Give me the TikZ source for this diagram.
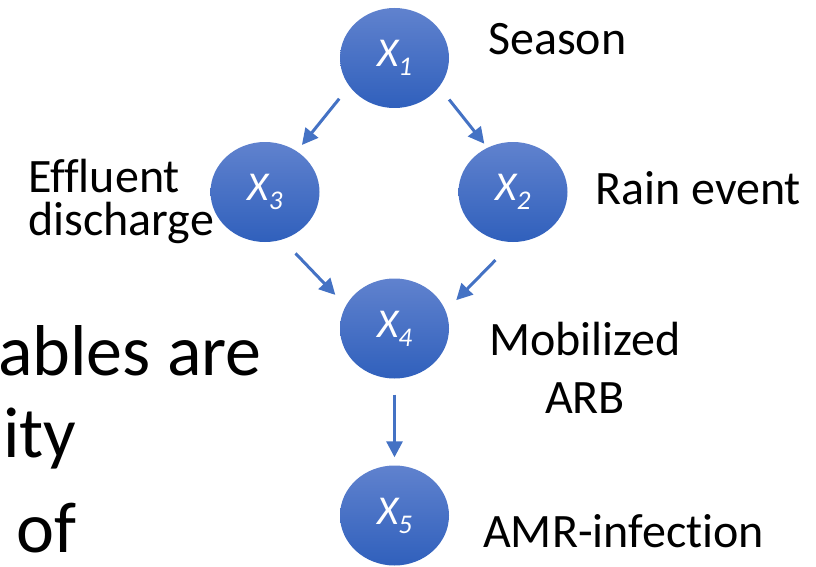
\documentclass[tikz,border=0pt]{standalone}
\usepackage{fontspec}
\setmainfont{Carlito}[Ligatures=NoCommon]
\usetikzlibrary{calc,shapes.geometric,arrows.meta}

\definecolor{arrblue}{RGB}{68,114,196}
\definecolor{rvtop}{RGB}{96,130,206}
\definecolor{rvbot}{RGB}{48,96,188}

\newcommand{\rvsub}[1]{\raisebox{-9pt}{\fontsize{27}{27}\selectfont #1}}

\begin{document}
\begin{tikzpicture}[x=1pt, y=-1pt,
    rv/.style={ellipse, minimum width=109pt, minimum height=100pt, inner sep=0pt,
        top color=rvtop, bottom color=rvbot, text=white,
        font=\fontsize{41}{41}\selectfont\itshape},
    lbl/.style={inner sep=0pt, font=\fontsize{48}{48}\selectfont},
    big/.style={inner sep=0pt, anchor=base west, font=\fontsize{72}{72}\selectfont},
    arr/.style={draw=arrblue, line width=3pt, -{Triangle[length=16pt, width=16pt]},
        shorten <=16pt, shorten >=8pt}]
    \useasboundingbox (0, 0) rectangle (816, 567);

    \node [rv] (X1) at (394.5, 58) {X\rvsub{1}};
        \node [rv] (X3) at ($(X1) + (-129.5, 134)$) {X\rvsub{3}};
        \node [rv] (X2) at ($(X1) + (118.5, 134)$) {X\rvsub{2}};
    \node [rv] (X4) at ($(X1) + (0, 270.5)$) {X\rvsub{4}};
    \node [rv] (X5) at ($(X4) + (0, 187)$) {X\rvsub{5}};

    \node [lbl, anchor=base west] (season) at ($(X1) + (93.5, -3)$) {Season};
    \node [lbl, anchor=base west] (rain) at ($(X2) + (82, 12)$) {Rain event};
    \node [lbl, anchor=base west, align=left, font=\fontsize{48}{43}\selectfont]
        (effluent) at ($(X3) + (-237, 43)$) {Effluent\\discharge};
    \node [lbl, anchor=base, align=center, font=\fontsize{48}{58}\selectfont]
        (arb) at ($(X4) + (190.5, 84.5)$) {Mobilized\\ARB};
    \node [lbl, anchor=base west] (amr) at ($(X5) + (88.5, 31.5)$) {AMR-infection};

    % text of the slide, cut at the left edge
    \node [big] (line1) at (-2, 375) {ables are};
    \node [big] (line2) at (3, 457) {ity};
    \node [big] (line3) at (16, 552) {of};

    \draw [arr] (X1.212) -- (X3.52);
    \draw [arr, shorten >=5pt] (X1.327) -- (X2.120);
    \draw [arr, shorten <=19pt, shorten >=15pt] (X3.290) -- (X4.155);
    \draw [arr, shorten <=25pt, shorten >=15pt] (X2.270) -- (X4.19);
    \draw [arr] (X4.south) -- (X5.north);
\end{tikzpicture}
\end{document}
